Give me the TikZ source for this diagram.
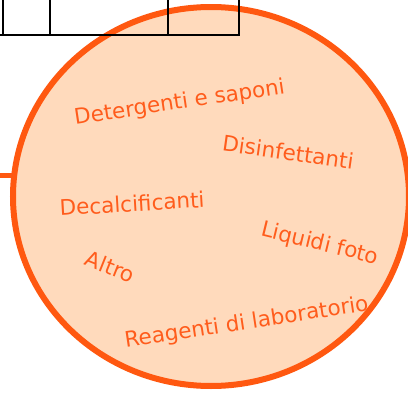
\documentclass[tikz,border=0pt]{standalone}
\usepackage{fontspec}
\setmainfont{DejaVu Sans}
\definecolor{ringc}{RGB}{255,88,16}
\definecolor{fillc}{RGB}{255,218,188}
\definecolor{txtc}{RGB}{255,92,28}
\tikzset{
  lbl/.style={anchor=base, text=txtc, font=\fontsize{21.5}{24}\selectfont, inner sep=0pt},
  grid line/.style={black, line width=1.6pt},
}
\begin{document}
\begin{tikzpicture}[x=1pt,y=-1pt]
\useasboundingbox (0,0) rectangle (408,394);
% connector from the left
\draw[ringc, line width=5pt] (0,175) -- (20,175);
% big circle
\draw[ringc, fill=fillc, line width=6pt] (211,196.5) ellipse [x radius=198, y radius=189.5];
% table fragment at top
\draw[grid line] (0,35) -- (240,35);
\foreach \x in {3,50,168,239} \draw[grid line] (\x,0) -- (\x,35);
% labels
\node[lbl, rotate=8.5] (t1) at (180.5,109) {Detergenti e saponi};
\node[lbl, rotate=-8] (t2) at (287,160) {Disinfettanti};
\node[lbl, rotate=3.4] (t3) at (132.5,211.5) {Decalcificanti};
\node[lbl, rotate=-13.7] (t4) at (318.5,250) {Liquidi foto};
\node[lbl, rotate=-21.8] (t5) at (107.5,274) {Altro};
\node[lbl, rotate=8.6] (t6) at (247.5,329) {Reagenti di laboratorio};
\end{tikzpicture}
\end{document}
